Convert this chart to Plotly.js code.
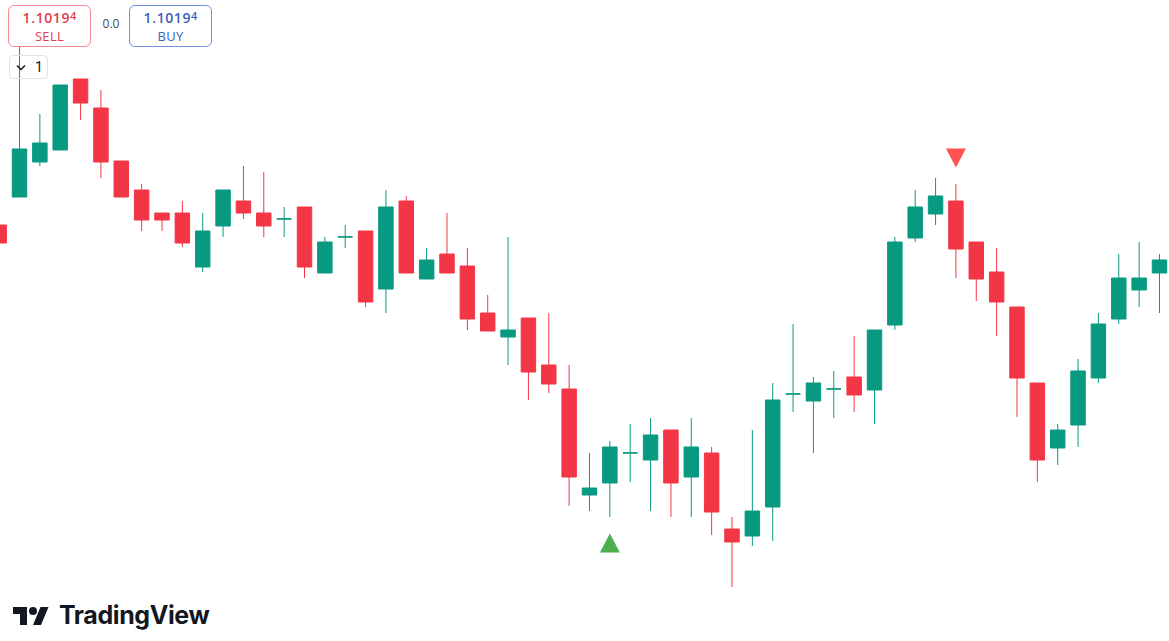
<!DOCTYPE html>
<html>
<head>
<meta charset="utf-8">
<script src="https://cdn.plot.ly/plotly-3.0.1.min.js"></script>
<style>
  html, body { margin: 0; padding: 0; background: #ffffff; }
  #wrap { position: relative; width: 1169px; height: 641px; overflow: hidden; }
  #chart { position: absolute; left: 0; top: 0; width: 1169px; height: 641px; }
  .btn { position: absolute; box-sizing: border-box; width: 83px; height: 42px; top: 5px;
         border-radius: 6px; background: #ffffff; text-align: center;
         font-family: "Open Sans", Roboto, "Liberation Sans", sans-serif; }
  .btn .p { position: absolute; left: 0; right: 0; top: 3px; font-size: 14px; font-weight: 600; line-height: 18px; letter-spacing: 0.6px; }
  .btn .p sup { font-size: 11px; vertical-align: 0; position: relative; top: -3px; letter-spacing: 0; }
  .btn .l { position: absolute; left: 0; right: 0; top: 21px; font-size: 13px; line-height: 18px; letter-spacing: 0.3px; }
  #sell { left: 8px; border: 1px solid #f08a93; color: #e0404e; }
  #buy { left: 129px; border: 1px solid #6f8fdc; color: #3d5fbd; }
  #spread { position: absolute; left: 99px; top: 15px; width: 24px; text-align: center;
            font-family: "Open Sans", Roboto, "Liberation Sans", sans-serif; font-size: 12px; color: #434651; }
  #qty { position: absolute; left: 9px; top: 55px; width: 39px; height: 24px; box-sizing: border-box;
         border: 1px solid #e0e3eb; border-radius: 4px; font-family: Roboto, "Liberation Sans", sans-serif;
         font-size: 14px; color: #131722; }
  #qty svg { position: absolute; left: 6px; top: 8px; }
  #qty span { position: absolute; left: 25px; top: 3px; }
  #logo { position: absolute; left: 13px; top: 603px; }
  #brand { position: absolute; left: 59px; top: 600px; font-family: Inter, "Open Sans", sans-serif;
           font-weight: 700; font-size: 25px; color: #131722; letter-spacing: -0.4px; }
</style>
</head>
<body>
<div id="wrap">
  <div id="chart"></div>
  <div id="sell" class="btn"><div class="p">1.1019<sup>4</sup></div><div class="l">SELL</div></div>
  <div id="spread">0.0</div>
  <div id="buy" class="btn"><div class="p">1.1019<sup>4</sup></div><div class="l">BUY</div></div>
  <div id="qty"><svg width="10" height="7" viewBox="0 0 10 7"><path d="M1 1.5 L5 5.5 L9 1.5" fill="none" stroke="#131722" stroke-width="1.5"/></svg><span>1</span></div>
  <svg id="logo" width="36" height="28" viewBox="0 0 36 28"><path fill="#131722" d="M14 22H7V11H0V4h14v18zM28 22h-8l7.5-18h8L28 22z"/><circle fill="#131722" cx="20" cy="8" r="4"/></svg>
  <div id="brand">TradingView</div>
</div>
<script>
// OHLC values (EURUSD-like, 58 bars)
var openP = [1.10229,1.10257,1.10292,1.10304,1.10375,1.10346,1.10293,1.10264,1.10241,1.10241,
             1.10187,1.10228,1.10253,1.10241,1.10235,1.10247,1.10181,1.10217,1.10223,1.10165,
             1.10253,1.10175,1.10200,1.10188,1.10141,1.10117,1.10136,1.10089,1.10065,1.09959,
             1.09971,1.10001,1.09994,1.10024,1.09977,1.10001,1.09925,1.09918,1.09947,1.10060,
             1.10053,1.10065,1.10077,1.10064,1.10129,1.10216,1.10240,1.10253,1.10212,1.10182,
             1.10147,1.10071,1.10006,1.10029,1.10076,1.10135,1.10164,1.10181];
var highP = [1.10233,1.10412,1.10340,1.10369,1.10375,1.10364,1.10293,1.10270,1.10241,1.10253,
             1.10241,1.10264,1.10288,1.10282,1.10247,1.10247,1.10217,1.10229,1.10223,1.10264,
             1.10258,1.10206,1.10241,1.10206,1.10159,1.10217,1.10136,1.10141,1.10089,1.10001,
             1.10013,1.10030,1.10036,1.10024,1.10036,1.10007,1.09937,1.10024,1.10071,1.10130,
             1.10077,1.10083,1.10118,1.10124,1.10217,1.10264,1.10276,1.10270,1.10212,1.10206,
             1.10147,1.10071,1.10030,1.10095,1.10141,1.10200,1.10212,1.10200];
var lowP  = [1.10207,1.10257,1.10288,1.10304,1.10334,1.10276,1.10257,1.10223,1.10223,1.10207,
             1.10182,1.10217,1.10235,1.10217,1.10217,1.10176,1.10181,1.10206,1.10147,1.10141,
             1.10181,1.10175,1.10181,1.10124,1.10123,1.10089,1.10054,1.10061,1.09948,1.09943,
             1.09937,1.09972,1.09943,1.09937,1.09937,1.09919,1.09867,1.09908,1.09913,1.10042,
             1.10001,1.10036,1.10042,1.10030,1.10124,1.10212,1.10229,1.10176,1.10153,1.10118,
             1.10037,1.09972,1.09989,1.10007,1.10071,1.10130,1.10147,1.10141];
var closeP = [1.10211,1.10305,1.10311,1.10369,1.10351,1.10292,1.10257,1.10234,1.10234,1.10211,
              1.10223,1.10264,1.10241,1.10228,1.102351,1.10187,1.10212,1.102171,1.10152,1.10247,
              1.10181,1.10194,1.10181,1.10135,1.10123,1.10124,1.10082,1.10070,1.09977,1.09966,
              1.10007,1.100011,1.10019,1.09971,1.10007,1.09942,1.09912,1.09943,1.10054,1.100601,
              1.10071,1.100651,1.10059,1.10124,1.10212,1.10247,1.10258,1.10205,1.10175,1.10152,
              1.10076,1.09994,1.10024,1.10083,1.10130,1.10176,1.10176,1.10194];

// signal markers: bar index and price level
var buyBar = [30];   var buyPrice = [1.09911];
var sellBar = [47];  var sellPrice = [1.10296];

var barIdx = openP.map(function (_, i) { return i; });

var GREEN = '#089981', RED = '#F23645';

var candles = {
  type: 'candlestick',
  x: barIdx, open: openP, high: highP, low: lowP, close: closeP,
  increasing: { line: { color: GREEN, width: 1 }, fillcolor: GREEN },
  decreasing: { line: { color: RED, width: 1 }, fillcolor: RED },
  whiskerwidth: 0,
  hoverinfo: 'skip',
  showlegend: false
};

// triangles (size in bar units / price units)
var HW = 0.49, HH = 0.000094;
function tri(bars, prices, up) {
  var xs = [], ys = [];
  bars.forEach(function (b, k) {
    var p = prices[k];
    if (up) { xs.push(b - HW, b + HW, b, b - HW, null); ys.push(p - HH, p - HH, p + HH, p - HH, null); }
    else    { xs.push(b - HW, b + HW, b, b - HW, null); ys.push(p + HH, p + HH, p - HH, p + HH, null); }
  });
  return { xs: xs, ys: ys };
}
var tb = tri(buyBar, buyPrice, true), ts = tri(sellBar, sellPrice, false);
var buyTr = { type: 'scatter', mode: 'lines', x: tb.xs, y: tb.ys, fill: 'toself',
  fillcolor: '#4CAF50', line: { width: 0, color: '#4CAF50' }, hoverinfo: 'skip', showlegend: false };
var sellTr = { type: 'scatter', mode: 'lines', x: ts.xs, y: ts.ys, fill: 'toself',
  fillcolor: '#FF5252', line: { width: 0, color: '#FF5252' }, hoverinfo: 'skip', showlegend: false };

var layout = {
  width: 1169, height: 641,
  margin: { l: 0, r: 0, t: 0, b: 0 },
  paper_bgcolor: '#ffffff', plot_bgcolor: '#ffffff',
  boxgap: 0.29, boxgroupgap: 0,
  showlegend: false,
  xaxis: { visible: false, range: [0.042, 57.467], rangeslider: { visible: false }, fixedrange: true },
  yaxis: { visible: false, range: [1.09813, 1.10454], fixedrange: true }
};

Plotly.newPlot('chart', [candles, buyTr, sellTr], layout, { staticPlot: true, displayModeBar: false });
</script>
</body>
</html>
